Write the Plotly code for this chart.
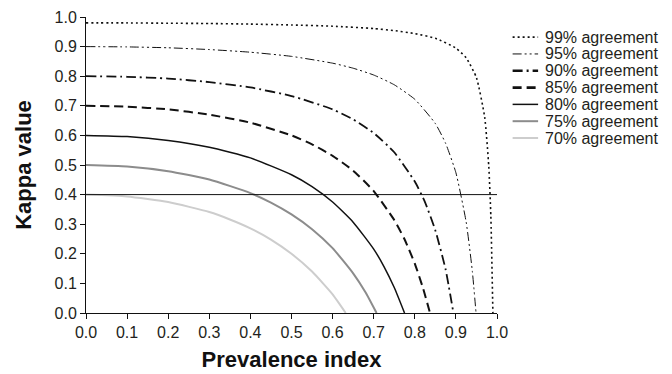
import plotly.graph_objects as go

# ---- data ----
labels = ["99% agreement", "95% agreement", "90% agreement", "85% agreement",
          "80% agreement", "75% agreement", "70% agreement"]

x99 = [0, 0.1, 0.2, 0.3, 0.4, 0.5, 0.6, 0.7, 0.75, 0.8, 0.85, 0.9, 0.925, 0.95, 0.97, 0.98, 0.985, 0.99]
y99 = [0.98, 0.98, 0.979, 0.978, 0.976, 0.973, 0.969, 0.961, 0.954, 0.944, 0.928, 0.895, 0.862, 0.795, 0.662, 0.495, 0.328, 0.0]

x95 = [0, 0.1, 0.2, 0.3, 0.4, 0.5, 0.6, 0.65, 0.7, 0.75, 0.8, 0.85, 0.875, 0.9, 0.925, 0.94, 0.949]
y95 = [0.9, 0.899, 0.896, 0.89, 0.881, 0.867, 0.844, 0.827, 0.804, 0.771, 0.722, 0.640, 0.573, 0.474, 0.307, 0.141, 0.0]

x90 = [0, 0.1, 0.2, 0.3, 0.4, 0.5, 0.6, 0.65, 0.7, 0.75, 0.8, 0.825, 0.85, 0.875, 0.894]
y90 = [0.8, 0.798, 0.792, 0.780, 0.762, 0.733, 0.688, 0.654, 0.608, 0.543, 0.444, 0.374, 0.279, 0.147, 0.0]

x85 = [0, 0.1, 0.2, 0.3, 0.4, 0.5, 0.55, 0.6, 0.65, 0.7, 0.75, 0.775, 0.8, 0.82, 0.837]
y85 = [0.7, 0.697, 0.688, 0.670, 0.643, 0.6, 0.570, 0.531, 0.481, 0.412, 0.314, 0.249, 0.167, 0.084, 0.0]

x80 = [0, 0.1, 0.2, 0.3, 0.4, 0.5, 0.55, 0.6, 0.65, 0.7, 0.725, 0.75, 0.775]
y80 = [0.6, 0.596, 0.583, 0.560, 0.524, 0.467, 0.427, 0.375, 0.307, 0.216, 0.157, 0.086, 0.0]

x75 = [0, 0.1, 0.2, 0.3, 0.4, 0.45, 0.5, 0.55, 0.6, 0.65, 0.68, 0.707]
y75 = [0.5, 0.495, 0.479, 0.451, 0.405, 0.373, 0.333, 0.283, 0.219, 0.134, 0.070, 0.0]

x70 = [0, 0.1, 0.2, 0.3, 0.35, 0.4, 0.45, 0.5, 0.55, 0.6, 0.632]
y70 = [0.4, 0.394, 0.375, 0.341, 0.316, 0.286, 0.248, 0.2, 0.140, 0.063, 0.0]

threshold_x = [0, 1]
threshold_y = [0.4, 0.4]

xs = [x99, x95, x90, x85, x80, x75, x70]
ys = [y99, y95, y90, y85, y80, y75, y70]

# ---- styles ----
styles = [
    dict(color="#111111", width=1.6, dash="2px,3px"),
    dict(color="#111111", width=1.0, dash="9px,3px,2px,3px,2px,3px"),
    dict(color="#111111", width=1.8, dash="10px,4px,2px,4px"),
    dict(color="#111111", width=2.0, dash="9px,5px"),
    dict(color="#111111", width=1.5, dash="solid"),
    dict(color="#8c8c8c", width=2.0, dash="solid"),
    dict(color="#cdcdcd", width=2.0, dash="solid"),
]

fig = go.Figure()
for x, y, lab, st in zip(xs, ys, labels, styles):
    fig.add_trace(go.Scatter(x=x, y=y, mode="lines", name=lab,
                             line=dict(shape="spline", smoothing=0.5, **st),
                             showlegend=False))

fig.add_trace(go.Scatter(x=threshold_x, y=threshold_y, mode="lines",
                         line=dict(color="#111111", width=1), showlegend=False,
                         hoverinfo="skip"))

# ---- manual legend ----
font = "Liberation Sans, Arial, sans-serif"
top = 0.932
step = 0.0568
for i, (lab, st) in enumerate(zip(labels, styles)):
    yy = top - i * step
    fig.add_shape(type="line", xref="paper", yref="paper",
                  x0=1.038, x1=1.100, y0=yy, y1=yy,
                  line=dict(color=st["color"], width=st["width"] + (0.8 if i in (2, 3) else 0),
                            dash=st["dash"]))
    fig.add_annotation(xref="paper", yref="paper", x=1.112, y=yy,
                       xanchor="left", yanchor="middle", text=lab,
                       showarrow=False, font=dict(family=font, size=16, color="#231f20"))

fig.update_layout(
    width=672, height=374,
    margin=dict(l=78, r=183, t=9, b=69),
    paper_bgcolor="white", plot_bgcolor="white",
    font=dict(family=font, color="#231f20"),
    showlegend=False,
)
fig.update_xaxes(range=[0, 1], dtick=0.1, tickformat=".1f", showgrid=False, zeroline=False,
                 showline=True, linecolor="#111111", linewidth=1, automargin=False,
                 ticks="outside", ticklen=5, tickcolor="#111111",
                 tickfont=dict(size=16, family=font, color="#231f20"),
                 title=dict(text="<b>Prevalence index</b>", font=dict(size=22, family=font, color="#111111"),
                            standoff=11))
fig.update_yaxes(range=[0, 1], dtick=0.1, tickformat=".1f", showgrid=False, zeroline=False,
                 showline=True, linecolor="#111111", linewidth=1, automargin=False,
                 ticks="outside", ticklen=5, tickcolor="#111111",
                 tickfont=dict(size=16, family=font, color="#231f20"),
                 title=dict(text="<b>Kappa value</b>", font=dict(size=22, family=font, color="#111111"),
                            standoff=16))

fig.write_html("out.html")
